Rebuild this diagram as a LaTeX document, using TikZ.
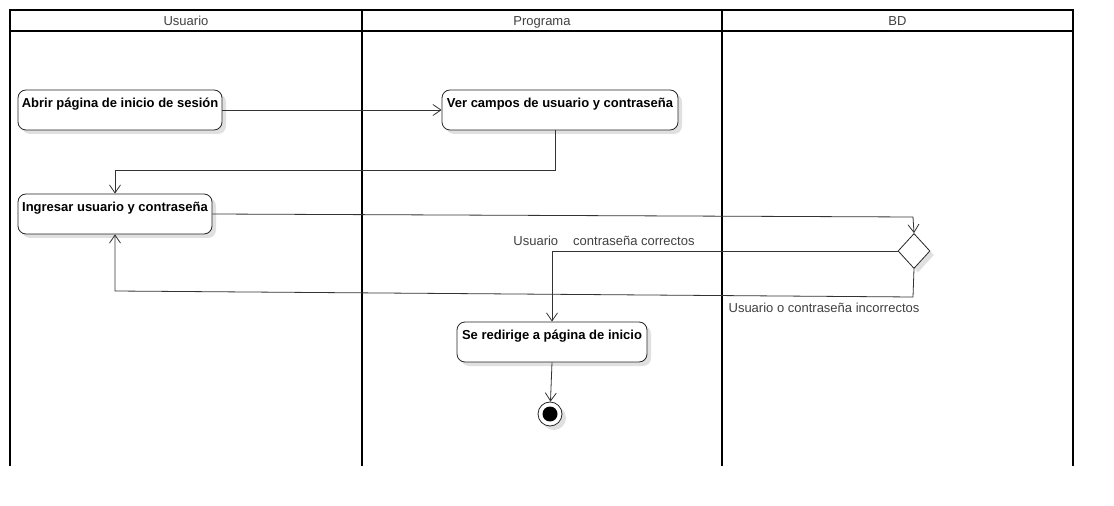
\documentclass[tikz,border=0pt]{standalone}
\usepackage{fontspec}
\setmainfont{Liberation Sans}
\usetikzlibrary{shapes.geometric,shadows,arrows.meta}

\tikzset{
  sombra/.style={drop shadow={shadow xshift=4bp,shadow yshift=-4bp,fill=black,opacity=0.12}},
  accion/.style={draw=black!85, line width=0.8bp, fill=white, rounded corners=8bp, font=\fontsize{13bp}{15bp}\selectfont\bfseries,
    inner xsep=3bp, inner ysep=3bp, text height=15bp, text depth=19bp, sombra},
  decision/.style={diamond, draw=black!85, line width=0.8bp, fill=white, aspect=1, minimum width=32bp, minimum height=35bp, inner sep=0pt, sombra},
  flujo/.style={draw=black!80, line width=0.8bp, -{Straight Barb[length=8bp,width=11bp]}},
  carril/.style={line width=1.6bp},
  etiqueta/.style={text=black!75, anchor=base}
}

\begin{document}
\begin{tikzpicture}[x=1bp,y=-1bp,font=\fontsize{13bp}{15bp}\selectfont]
         \useasboundingbox (0,0) rectangle (1114,506);
         % carriles
         \draw[carril] (10,466) -- (10,10) -- (1073,10) -- (1073,466);
         \draw[carril] (10,31) -- (1073,31);
         \foreach \x in {362,722} {\draw[carril] (\x,10) -- (\x,466);}
         \foreach \x/\nombre/\id in {186/Usuario/1,542/Programa/2,897.5/BD/3} {\node[etiqueta] (cab\id) at (\x,25.5) {\nombre};}
         % acciones
         \node[accion, minimum width=204bp] (abrir) at (120,110) {Abrir página de inicio de sesión};
         \node[accion, minimum width=236bp] (ver) at (560,110) {Ver campos de usuario y contraseña};
         \node[accion, minimum width=194bp] (ingresar) at (115,214) {Ingresar usuario y contraseña};
         \node[accion, minimum width=190bp] (redirige) at (552,342) {Se redirige a página de inicio};
         \node[decision] (dec) at (914,251) {};
         \node[circle, draw=black!85, line width=0.8bp, fill=white, minimum size=24bp, inner sep=0pt, sombra] (fin) at (550,414) {};
         \node[circle, fill=black, minimum size=15bp, inner sep=0pt] (finint) at (fin) {};
         % flujos
         \coordinate (c1) at (913,217);
         \coordinate (c2) at (913,297);
         \coordinate (c3) at (115,291);
         \draw[flujo] (abrir.east) -- (ver.west);
         \draw[flujo] ([xshift=-5bp]ver.south) -- ++(0,40) -| (ingresar.north);
         \draw[flujo] (ingresar.east) -- (c1) -- (dec.north);
         \draw[flujo] (dec.west) -| (redirige.north);
         \draw[flujo] (dec.south) -- (c2) -- (c3) -- (ingresar.south);
         \draw[flujo] (redirige.south) -- (fin);
         % guardas
         \node[etiqueta] (si) at (604,246) {Usuario\hspace{15bp}contraseña correctos};
         \node[etiqueta] (no) at (824,312.5) {Usuario o contraseña incorrectos};
      \end{tikzpicture}
\end{document}
